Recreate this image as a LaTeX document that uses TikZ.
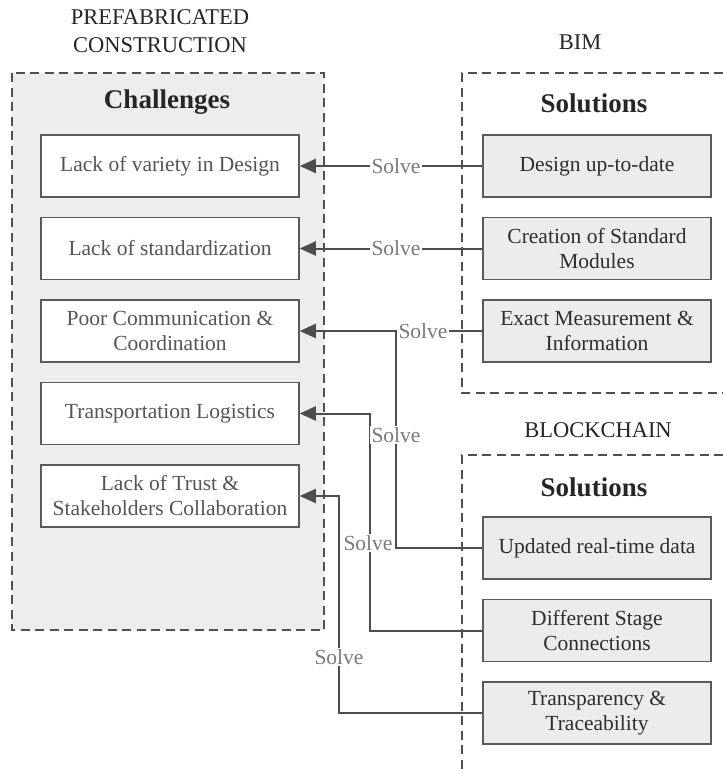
\documentclass[tikz,border=0pt]{standalone}
\usepackage{fontspec}
\setmainfont{Liberation Serif}
\usetikzlibrary{arrows.meta}

\definecolor{panelfill}{HTML}{EDEDED}
\definecolor{solfill}{HTML}{ECECEC}
\definecolor{dashgray}{HTML}{505050}
\definecolor{boxgray}{HTML}{5A5A5A}
\definecolor{linegray}{HTML}{4D4D4D}
\definecolor{chtext}{HTML}{555555}
\definecolor{soltext}{HTML}{2E2E2E}
\definecolor{headtext}{HTML}{262626}
\definecolor{lblgray}{HTML}{7A7A7A}

\pgfdeclarelayer{panels}
\pgfdeclarelayer{wires}
\pgfsetlayers{panels,wires,main}

\newcommand{\bodysize}{\fontsize{21.5}{25}\selectfont}
\newcommand{\headsize}{\fontsize{27}{30}\selectfont\bfseries}

\tikzset{
  dashbox/.style={draw=dashgray, line width=1.7pt, dash pattern=on 9pt off 5.5pt},
  chbox/.style={draw=boxgray, fill=white, line width=1.5pt, minimum width=258pt,
    minimum height=62pt, inner sep=0pt, align=center, text=chtext, font=\bodysize},
  solbox/.style={draw=boxgray, fill=solfill, line width=1.5pt, minimum width=228pt,
    minimum height=62pt, inner sep=0pt, align=center, text=soltext, font=\bodysize},
  solvelbl/.style={fill=white, text=lblgray, font=\bodysize, inner xsep=1.5pt, inner ysep=1pt},
  heading/.style={text=headtext, font=\headsize},
  caption/.style={text=headtext, font=\fontsize{22.5}{27.5}\selectfont, align=center},
  link/.style={draw=linegray, line width=2pt},
  tipped/.style={-{Triangle[length=16pt,width=14pt]}}
}

\begin{document}
\begin{tikzpicture}[x=1pt,y=-1pt]
\useasboundingbox (0,0) rectangle (723,774);

% page background and panels
\begin{pgfonlayer}{panels}
  \fill[white] (0,0) rectangle (723,774);
  \draw[dashbox, fill=panelfill] (12,73) rectangle (324,630);
  \draw[dashbox] (723,73) -- (462,73) -- (462,393) -- (723,393);
  \draw[dashbox] (723,455) -- (462,455) -- (462,774);
\end{pgfonlayer}

% titles
\node[caption] (tprefab) at (160,31) {PREFABRICATED\\CONSTRUCTION};
\node[caption] (tbim) at (580,42) {BIM};
\node[caption] (tblock) at (598,430) {BLOCKCHAIN};
\node[heading] (hch) at (167,102) {Challenges};
\node[heading] (hbim) at (594,103) {Solutions};
\node[heading] (hblock) at (594,487) {Solutions};

% challenges
\node[chbox] (ch1) at (170,166) {Lack of variety in Design};
\node[chbox] (ch2) at (170,248.5) {Lack of standardization};
\node[chbox] (ch3) at (170,331) {Poor Communication \&\\Coordination};
\node[chbox] (ch4) at (170,413.5) {Transportation Logistics};
\node[chbox] (ch5) at (170,496) {Lack of Trust \&\\Stakeholders Collaboration};

% BIM solutions
\node[solbox] (bim1) at (597,166) {Design up-to-date};
\node[solbox] (bim2) at (597,248.5) {Creation of Standard\\Modules};
\node[solbox] (bim3) at (597,331) {Exact Measurement \&\\Information};

% blockchain solutions
\node[solbox] (bc1) at (597,548) {Updated real-time data};
\node[solbox] (bc2) at (597,630.5) {Different Stage\\Connections};
\node[solbox] (bc3) at (597,713) {Transparency \&\\Traceability};

% connector labels
\node[solvelbl] (s1) at (396,166) {Solve};
\node[solvelbl] (s2) at (396,248.5) {Solve};
\node[solvelbl] (s3) at (423,331) {Solve};
\node[solvelbl] (s4) at (396,435) {Solve};
\node[solvelbl] (s5) at (368,543) {Solve};
\node[solvelbl] (s6) at (339,657) {Solve};

% connectors
\begin{pgfonlayer}{wires}
  \draw[link, tipped] (bim1.west) -- (s1.center) -- (ch1.east);
  \draw[link, tipped] (bim2.west) -- (s2.center) -- (ch2.east);
  \draw[link, tipped] (bim3.west) -- (s3.center) -- (ch3.east);
  \draw[link] (bc1.west) -| (s4.center) -- (s4.center |- ch3.east);
  \draw[link, tipped] (bc2.west) -| (370,543) |- (ch4.east);
  \draw[link, tipped] (bc3.west) -| (s6.center) |- (ch5.east);
\end{pgfonlayer}
\end{tikzpicture}
\end{document}
